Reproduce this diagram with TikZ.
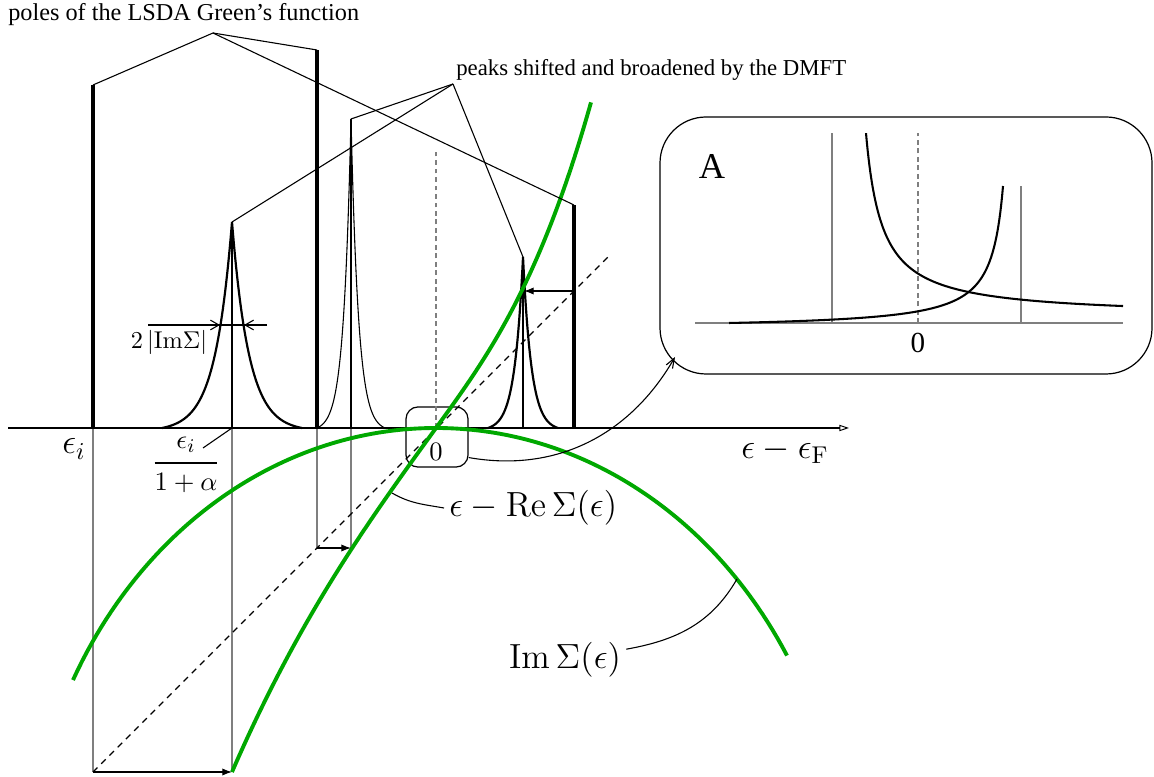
\documentclass[tikz,border=0pt]{standalone}
\usepackage{amsmath}
\usepackage[no-math]{fontspec}
\setmainfont{Liberation Serif}
\usepackage{tikz}
\usetikzlibrary{arrows.meta, positioning, fit}
\definecolor{Ink}{HTML}{000000}
\definecolor{SigmaGreen}{HTML}{00A800}
\definecolor{Guide}{HTML}{7F7F7F}

\begin{document}
\begin{tikzpicture}[
  x=0.0145cm, y=0.0145cm,
  pole/.style={draw=Ink, line width=1.8pt},
  peak/.style={draw=Ink, line width=0.9pt},
  slimpeak/.style={draw=Ink, line width=0.45pt},
  core/.style={draw=Ink, line width=0.7pt},
  guide/.style={draw=Guide, line width=0.45pt},
  dashguide/.style={guide, dash pattern=on 2pt off 1.5pt},
  diagonal/.style={draw=Ink, line width=0.5pt, dash pattern=on 2.6pt off 2.2pt},
  pointer/.style={draw=Ink, line width=0.45pt},
  sigma/.style={draw=SigmaGreen, line width=1.6pt},
  axis/.style={draw=Ink, line width=1pt, -{Triangle[open, length=4pt, width=2.6pt, line width=0.4pt]}},
  arrow/.style={-{Latex[length=4pt, width=3pt]}, draw=Ink, line width=0.5pt},
  barb/.style={-{Straight Barb[length=3.5pt, width=4pt]}, draw=Ink, line width=0.45pt},
  insetcurve/.style={draw=Ink, line width=0.85pt},
  biglabel/.style={font=\Large, inner sep=2pt},
  roundbox/.style={draw=Ink, line width=0.5pt, inner sep=0pt}
]
\useasboundingbox (0,0) rectangle (1154,776);

\coordinate (axisstart) at (8,348);
\coordinate (axisend) at (849,348);
\coordinate (pole1base) at (93,348);
\coordinate (pole1) at (93,691);
\coordinate (pole2base) at (317,348);
\coordinate (pole2) at (317,726);
\coordinate (pole3base) at (574,348);
\coordinate (pole3) at (574,571);
\coordinate (peak1base) at (232,348);
\coordinate (peak1) at (232,554);
\coordinate (peak2base) at (351,348);
\coordinate (peak2) at (351,657);
\coordinate (peak3base) at (523,348);
\coordinate (peak3) at (523,519);
\coordinate (polesfork) at (213,743);
\coordinate (peaksfork) at (453,692);
\coordinate (lowleft) at (93,4);
\coordinate (lowright) at (232,4);
\coordinate (midleft) at (317,228);
\coordinate (midright) at (351,228);
\coordinate (pole3mark) at (574,485);
\coordinate (peak3mark) at (524,485);
\coordinate (diagend) at (608,519);
\coordinate (zerotop) at (436,624);
\coordinate (zerobase) at (436,348);
\coordinate (widthleft) at (148,451);
\coordinate (widthright) at (267,451);
\coordinate (halfleft) at (220,451);
\coordinate (halfright) at (244,451);
\coordinate (ratiotip) at (203,328);
\coordinate (rehit) at (392,283);
\coordinate (imhit) at (737,197);
\coordinate (insetsw) at (660,402);
\coordinate (insetne) at (1152,659);
\coordinate (insetcorner) at (675,419);

\node[anchor=west, inner sep=2pt] (poleslabel) at (3,761) {poles of the LSDA Green's function};
\node[anchor=west, inner sep=2pt, font=\fontsize{9.4}{11}\selectfont] (peakslabel) at (451,706) {peaks shifted and broadened by the DMFT};
\node[biglabel] (axislabel) at (785,325) {$\epsilon-\epsilon_{\mathrm F}$};
\node[biglabel] (epsi) at (74,327) {$\epsilon_i$};
\node[font=\fontsize{10.95}{13}\selectfont, inner sep=0pt] (ratio) at (186,311) {$\genfrac{}{}{1.2pt}{0}{\epsilon_i}{1+\alpha}$};
\node[inner sep=1pt] (widthlabel) at (169,434) {$2\,|\mathrm{Im}\Sigma|$};
\node[biglabel, anchor=west] (relabel) at (444,268) {$\epsilon-\mathrm{Re}\,\Sigma(\epsilon)$};
\node[biglabel] (imlabel) at (565,116) {$\mathrm{Im}\,\Sigma(\epsilon)$};
\node[roundbox, rounded corners=5pt, minimum width=25.6pt, minimum height=24.8pt] (zbox) at (437,339) {};
\node[font=\fontsize{10.95}{13}\selectfont] (zero) at (436,324) {$0$};
\node[roundbox, rounded corners=19pt, fit=(insetsw)(insetne)] (inset) {};
\node[font=\fontsize{15}{17}\selectfont] (alabel) at (712,609) {A};
\node[font=\large] (insetzero) at (918,433) {0};

\draw[dashguide] (zerobase) -- (zerotop);
\draw[guide] (pole1base) -- (lowleft);
\draw[guide] (peak1base) -- (lowright);
\draw[guide] (pole2base) -- (midleft);
\draw[guide] (peak2base) -- (midright);
\draw[diagonal] (lowleft) -- (diagend);

\draw[peak] plot[domain=-70:70, samples=141] ({232+\x}, {348+206*(exp(-abs(\x)/17)-0.0163)/0.9837});
\draw[slimpeak] plot[domain=-34:34, samples=137] ({351+\x}, {348+309*(exp(-abs(\x)/7.5)-0.0107)/0.9893});
\draw[peak] plot[domain=-35:35, samples=141] ({523+\x}, {348+171*(exp(-abs(\x)/8.5)-0.0163)/0.9837});
\draw[core] (peak1base) -- (peak1);
\draw[core] (peak2base) -- (peak2);
\draw[peak] (peak3base) -- (peak3);
\draw[pole] (pole1base) -- (pole1);
\draw[pole] (pole2base) -- (pole2);
\draw[pole] (pole3base) -- (pole3);
\draw[axis] (axisstart) -- (axisend);

\draw[sigma] plot[domain=232:436, samples=80] (\x, {348+1.38*(\x-436)+7.36*((\x-436)/100)^3})
  -- plot[domain=436:591, samples=80] (\x, {348+1.38*(\x-436)+30*((\x-436)/100)^3});
\draw[sigma] plot[domain=73:787, samples=150] (\x, {-123+471*sqrt(1-((\x-436)/410)*((\x-436)/410))});

\draw[arrow] (lowleft) -- (lowright);
\draw[arrow] (midleft) -- (midright);
\draw[arrow] (pole3mark) -- (peak3mark);

\draw[pointer] (widthleft) -- (widthright);
\draw[barb] (widthleft) -- (halfleft);
\draw[barb] (widthright) -- (halfright);

\draw[pointer] (polesfork) -- (pole1);
\draw[pointer] (polesfork) -- (pole2);
\draw[pointer] (polesfork) -- (pole3);
\draw[pointer] (peaksfork) -- (peak1);
\draw[pointer] (peaksfork) -- (peak2);
\draw[pointer] (peaksfork) -- (peak3);
\draw[pointer] (ratiotip) -- (peak1base);
\draw[pointer] (rehit) to[out=-30, in=170] (relabel.west);
\draw[pointer] (imlabel.10) to[out=10, in=240] (imhit);
\draw[pointer, -{Straight Barb[length=4pt, width=3pt]}] (zbox.-33) to[out=-10, in=240] (insetcorner);

\draw[guide] (695,453) -- (1123,453);
\draw[guide] (832,453) -- (832,643);
\draw[guide] (1021,453) -- (1021,590);
\draw[dashguide] (918,453) -- (918,643);
\draw[insetcurve] plot[domain=866:1123, samples=300] (\x, {459.2+2938/(\x-850)});
\draw[insetcurve] plot[domain=729:1003, samples=300] (\x, {447+1716/(1015-\x)});
\end{tikzpicture}
\end{document}
